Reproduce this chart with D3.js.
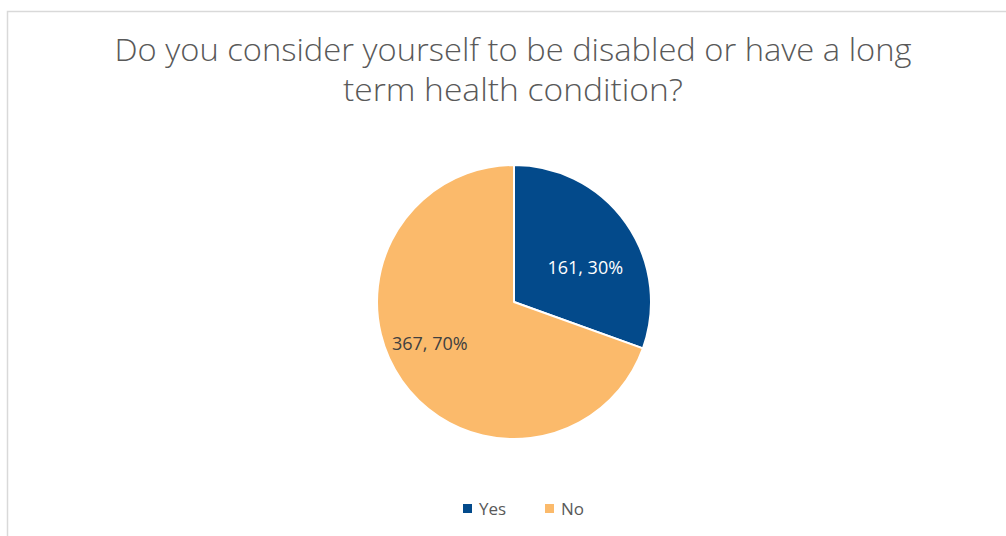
<!DOCTYPE html>
<html>
<head>
<meta charset="utf-8">
<script src="https://cdn.jsdelivr.net/npm/d3@7"></script>
<style>
  html, body { margin: 0; padding: 0; background: #ffffff; }
  svg { display: block; }
</style>
</head>
<body>
<svg id="chart" width="1006" height="536"></svg>
<script>
// Survey responses
const categories = ["Yes", "No"];
const counts = [161, 367];
const percentLabels = ["30%", "70%"];
const titleLines = ["Do you consider yourself to be disabled or have a long", "term health condition?"];
const colors = ["#034a8b", "#fbba6b"];

const svg = d3.select("#chart");
const W = 1006, H = 536;

// chart frame
svg.append("rect")
  .attr("x", 7.5).attr("y", 11.5)
  .attr("width", W).attr("height", H)
  .attr("fill", "#ffffff")
  .attr("stroke", "#d9d9d9").attr("stroke-width", 1.5);

// title, condensed to the frame's title box
const titleWidths = [797, 340];
const title = svg.append("g").attr("font-family", "'Open Sans', sans-serif")
  .attr("fill", "#595959").attr("font-size", 31).attr("font-weight", 300);
titleLines.forEach((t, i) => {
  title.append("text")
    .attr("x", 513).attr("y", 61 + i * 40)
    .attr("text-anchor", "middle")
    .attr("textLength", titleWidths[i])
    .attr("lengthAdjust", "spacingAndGlyphs")
    .text(t);
});

// pie
const cx = 514, cy = 302, r = 137;
const data = categories.map((c, i) => ({ cat: c, value: counts[i], pct: percentLabels[i], color: colors[i] }));
const pie = d3.pie().value(d => d.value).sort(null);
const arc = d3.arc().innerRadius(0).outerRadius(r);
const arcs = pie(data);

const g = svg.append("g").attr("transform", `translate(${cx},${cy})`);
g.selectAll("path")
  .data(arcs)
  .join("path")
  .attr("d", arc)
  .attr("fill", d => d.data.color)
  .attr("stroke", "#ffffff")
  .attr("stroke-width", 2)
  .attr("stroke-linejoin", "round");

// data labels: placed at the slice centroid, then nudged toward the horizontal
const labelArc = d3.arc().innerRadius(r * 0.6).outerRadius(r * 0.6);
const labelNudge = [[4, 13], [-17, -6]];
g.selectAll("text.lbl")
  .data(arcs)
  .join("text")
  .attr("class", "lbl")
  .attr("transform", (d, i) => {
    const [x, y] = labelArc.centroid(d);
    return `translate(${x + labelNudge[i][0]},${y + labelNudge[i][1]})`;
  })
  .attr("text-anchor", "middle")
  .attr("dy", "0.35em")
  .attr("font-family", "'Open Sans', sans-serif")
  .attr("font-size", 18)
  .attr("fill", (d, i) => i === 0 ? "#ffffff" : "#404040")
  .text(d => `${d.data.value}, ${d.data.pct}`);

// legend
const legend = svg.append("g").attr("font-family", "'Open Sans', sans-serif")
  .attr("font-size", 17).attr("fill", "#595959");
const legendX = [463, 545];
data.forEach((d, i) => {
  legend.append("rect")
    .attr("x", legendX[i]).attr("y", 504)
    .attr("width", 9).attr("height", 9)
    .attr("fill", d.color);
  legend.append("text")
    .attr("x", legendX[i] + 16).attr("y", 515)
    .text(d.cat);
});
</script>
</body>
</html>
